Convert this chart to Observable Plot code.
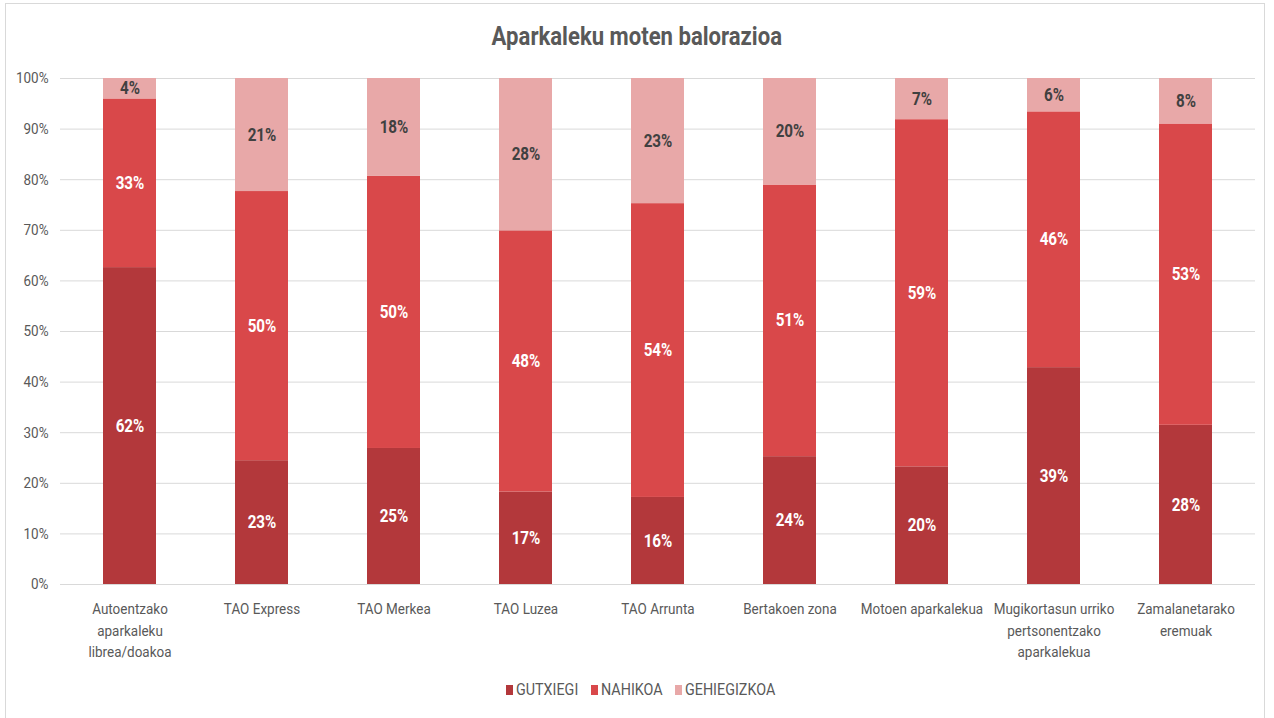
<!DOCTYPE html>
<html>
<head>
<meta charset="utf-8">
<script src="https://cdn.jsdelivr.net/npm/d3@7"></script>
<script src="https://cdn.jsdelivr.net/npm/@observablehq/plot@0.6"></script>
<style>
  html, body { margin: 0; padding: 0; background: #fff; }
  #wrap { position: relative; width: 1274px; height: 718px; overflow: hidden; font-family: Roboto, sans-serif; }
  #frame { position: absolute; left: 5px; top: 3px; width: 1260px; height: 720px; border: 1px solid #d9d9d9; box-sizing: border-box; }
  #title { position: absolute; left: 0; top: 20px; width: 1274px; text-align: center; color: #595959; font-weight: bold; font-size: 26px; line-height: 32px; }
  #title span { display: inline-block; transform: scaleX(0.85); }
  #chart { position: absolute; left: 0; top: 50px; }
  #legend { position: absolute; left: 6px; top: 680px; width: 1274px; display: flex; justify-content: center; align-items: center; color: #595959; font-size: 16.3px; }
  .item { display: flex; align-items: center; margin: 0 6px; }
  .sw { display: inline-block; width: 7px; height: 10px; margin-right: 3px; }
  .lab { display: inline-block; transform: scaleX(0.88); transform-origin: left center; margin-right: -8px; }
</style>
</head>
<body>
<div id="wrap">
  <div id="frame"></div>
  <div id="title"><span>Aparkaleku moten balorazioa</span></div>
  <div id="chart"></div>
  <div id="legend"></div>
</div>
<script>
const categories = ["Autoentzako aparkaleku librea/doakoa", "TAO Express", "TAO Merkea", "TAO Luzea", "TAO Arrunta", "Bertakoen zona", "Motoen aparkalekua", "Mugikortasun urriko pertsonentzako aparkalekua", "Zamalanetarako eremuak"];
const categoryLabels = ["Autoentzako\naparkaleku\nlibrea/doakoa", "TAO Express", "TAO Merkea", "TAO Luzea", "TAO Arrunta", "Bertakoen zona", "Motoen aparkalekua", "Mugikortasun urriko\npertsonentzako\naparkalekua", "Zamalanetarako\neremuak"];
const seriesNames = ["GUTXIEGI", "NAHIKOA", "GEHIEGIZKOA"];
const gutxiegi = [62, 23, 25, 17, 16, 24, 20, 39, 28];
const nahikoa = [33, 50, 50, 48, 54, 51, 59, 46, 53];
const gehiegizkoa = [4, 21, 18, 28, 23, 20, 7, 6, 8];
const yTicks = [0, 0.1, 0.2, 0.3, 0.4, 0.5, 0.6, 0.7, 0.8, 0.9, 1];

const colors = ["#B3383B", "#D9484A", "#E8A8A8"];
const labelColors = ["#ffffff", "#ffffff", "#404040"];

const seriesValues = [gutxiegi, nahikoa, gehiegizkoa];
const data = [];
categories.forEach((c, i) => {
  seriesNames.forEach((s, j) => data.push({cat: c, series: s, value: seriesValues[j][i]}));
});
const labelOf = new Map(categories.map((c, i) => [c, categoryLabels[i]]));

const chart = Plot.plot({
  width: 1274,
  height: 620,
  marginLeft: 60,
  marginRight: 19,
  marginTop: 28,
  marginBottom: 86,
  style: {fontFamily: "Roboto, sans-serif", fontSize: "15.5px", color: "#595959", background: "transparent"},
  x: {domain: categories, paddingInner: 0.6, paddingOuter: 0.3, label: null},
  y: {domain: [0, 1], label: null},
  color: {domain: seriesNames, range: colors},
  marks: [
    Plot.gridY(yTicks, {stroke: "#d9d9d9", strokeOpacity: 1, strokeWidth: 1}),
    Plot.axisY({ticks: yTicks, tickFormat: d3.format(".0%"), tickSize: 0, tickPadding: 12, label: null, fill: "#595959", fontSize: 15.5}),
    Plot.axisX({tickSize: 0, tickPadding: 14, tickFormat: d => labelOf.get(d), lineHeight: 1.4, label: null, fill: "#595959", fontSize: 15.5}),
    Plot.barY(data, Plot.stackY({x: "cat", y: "value", z: "series", fill: "series", offset: "normalize", order: seriesNames})),
    Plot.text(data, Plot.stackY({x: "cat", y: "value", z: "series", offset: "normalize", order: seriesNames,
      text: d => d.value + "%",
      fill: d => labelColors[seriesNames.indexOf(d.series)],
      fontWeight: "bold", fontSize: 17.5}))
  ]
});

chart.querySelectorAll("text").forEach(t => {
  const tr = t.getAttribute("transform");
  if (tr) t.setAttribute("transform", tr + " scale(0.87,1)");
});

document.getElementById("chart").appendChild(chart);

const legend = document.getElementById("legend");
seriesNames.forEach((s, j) => {
  const item = document.createElement("div");
  item.className = "item";
  const sw = document.createElement("span");
  sw.className = "sw";
  sw.style.background = colors[j];
  const lab = document.createElement("span");
  lab.className = "lab";
  lab.textContent = s;
  item.appendChild(sw);
  item.appendChild(lab);
  legend.appendChild(item);
});
</script>
</body>
</html>
